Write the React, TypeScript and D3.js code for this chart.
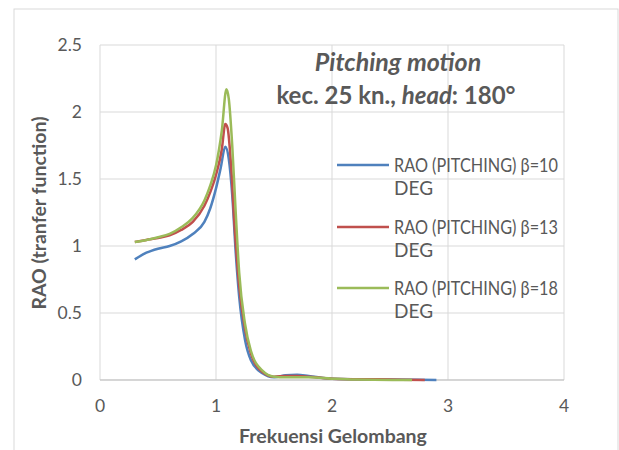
import React from "react";
import * as d3 from "d3";

const xTicks = [0, 1, 2, 3, 4];
const yTicks = [0, 0.5, 1, 1.5, 2, 2.5];

const seriesNames = [
  "RAO (PITCHING) β=10 DEG",
  "RAO (PITCHING) β=13 DEG",
  "RAO (PITCHING) β=18 DEG",
];
const seriesColors = ["#4F81BD", "#C0504D", "#9BBB59"];

const freqBlue = [0.3, 0.4, 0.5, 0.6, 0.7, 0.8, 0.9, 0.95, 1.0, 1.04, 1.08, 1.11, 1.14, 1.17, 1.2, 1.25, 1.3, 1.4, 1.5, 1.6, 1.7, 1.8, 2.0, 2.5, 2.9];
const raoBlue = [0.9, 0.95, 0.98, 1.0, 1.035, 1.09, 1.18, 1.28, 1.43, 1.58, 1.74, 1.65, 1.38, 0.95, 0.62, 0.3, 0.15, 0.05, 0.02, 0.035, 0.04, 0.03, 0.01, 0.003, 0.0];

const freqRed = [0.3, 0.4, 0.5, 0.6, 0.7, 0.8, 0.9, 0.95, 1.0, 1.05, 1.08, 1.1, 1.13, 1.16, 1.2, 1.25, 1.3, 1.4, 1.5, 1.6, 1.7, 1.8, 2.0, 2.4, 2.8];
const raoRed = [1.03, 1.045, 1.06, 1.08, 1.12, 1.18, 1.3, 1.4, 1.53, 1.72, 1.91, 1.88, 1.6, 1.15, 0.7, 0.38, 0.2, 0.06, 0.025, 0.03, 0.03, 0.025, 0.01, 0.005, 0.0];

const freqGreen = [0.3, 0.4, 0.5, 0.6, 0.7, 0.8, 0.9, 0.95, 1.0, 1.05, 1.09, 1.11, 1.14, 1.17, 1.2, 1.25, 1.3, 1.4, 1.5, 1.6, 1.8, 2.0, 2.2, 2.69];
const raoGreen = [1.03, 1.045, 1.065, 1.09, 1.14, 1.21, 1.34, 1.45, 1.6, 1.86, 2.17, 2.1, 1.75, 1.25, 0.8, 0.42, 0.22, 0.07, 0.025, 0.02, 0.02, 0.01, 0.003, 0.0];

const seriesX = [freqBlue, freqRed, freqGreen];
const seriesY = [raoBlue, raoRed, raoGreen];

const FONT = "Lato, 'Open Sans', sans-serif";
const TXT = "#595959";

export default function App() {
  const W = 619, H = 450;
  const x = d3.scaleLinear().domain([0, 4]).range([100, 564]);
  const y = d3.scaleLinear().domain([0, 2.5]).range([380, 45]);
  const line = d3
    .line<[number, number]>()
    .x((d) => x(d[0]))
    .y((d) => y(d[1]))
    .curve(d3.curveMonotoneX);

  const legendY = [165, 227, 288];

  return (
    <svg width={W} height={H} style={{ position: "absolute", left: 0, top: 0 }}>
      <rect x={0} y={0} width={W} height={H} fill="#fff" />
      <rect x={14} y={9} width={604} height={460} fill="#fff" stroke="#d9d9d9" strokeWidth={1} />
      {yTicks.map((t) => (
        <line key={"gy" + t} x1={x(0)} x2={x(4)} y1={y(t)} y2={y(t)} stroke="#d9d9d9" strokeWidth={1} />
      ))}
      {xTicks.map((t) => (
        <line key={"gx" + t} x1={x(t)} x2={x(t)} y1={y(0)} y2={y(2.5)} stroke="#d9d9d9" strokeWidth={1} />
      ))}
      <line x1={x(0)} x2={x(4)} y1={y(0)} y2={y(0)} stroke="#bfbfbf" strokeWidth={1} />
      {yTicks.map((t) => (
        <text key={"ty" + t} x={82} y={y(t)} dy="0.35em" textAnchor="end" fontFamily={FONT} fontSize={17.5} fill={TXT}>
          {String(t)}
        </text>
      ))}
      {xTicks.map((t) => (
        <text key={"tx" + t} x={x(t)} y={412} textAnchor="middle" fontFamily={FONT} fontSize={17.5} fill={TXT}>
          {String(t)}
        </text>
      ))}
      {seriesX.map((xs, i) => (
        <path
          key={"s" + i}
          d={line(xs.map((v, j) => [v, seriesY[i][j]] as [number, number])) || ""}
          fill="none"
          stroke={seriesColors[i]}
          strokeWidth={2.5}
        />
      ))}
      <text x={398} y={71} textAnchor="middle" fontFamily={FONT} fontSize={25} fontWeight="bold" fontStyle="italic" fill={TXT}>
        Pitching motion
      </text>
      <text x={396} y={104} textAnchor="middle" fontFamily={FONT} fontSize={24} fontWeight="bold" fill={TXT}>
        kec. 25 kn., <tspan fontStyle="italic">head</tspan>: 180°
      </text>
      {seriesNames.map((n, i) => {
        const parts = n.split(" DEG");
        return (
          <g key={"l" + i}>
            <line x1={337} x2={389} y1={legendY[i]} y2={legendY[i]} stroke={seriesColors[i]} strokeWidth={2.5} />
            <text x={394} y={legendY[i] + 6.5} fontFamily={FONT} fontSize={19} fill={TXT} textLength={164} lengthAdjust="spacingAndGlyphs">
              {parts[0]}
            </text>
            <text x={394} y={legendY[i] + 30} fontFamily={FONT} fontSize={19} fill={TXT}>
              DEG
            </text>
          </g>
        );
      })}
      <text x={333} y={443} textAnchor="middle" fontFamily={FONT} fontSize={19.5} fontWeight="bold" fill={TXT}>
        Frekuensi Gelombang
      </text>
      <text
        transform={`translate(46,213) rotate(-90)`}
        textAnchor="middle"
        fontFamily={FONT}
        fontSize={19.5}
        fontWeight="bold"
        fill={TXT}
      >
        RAO (tranfer function)
      </text>
    </svg>
  );
}
